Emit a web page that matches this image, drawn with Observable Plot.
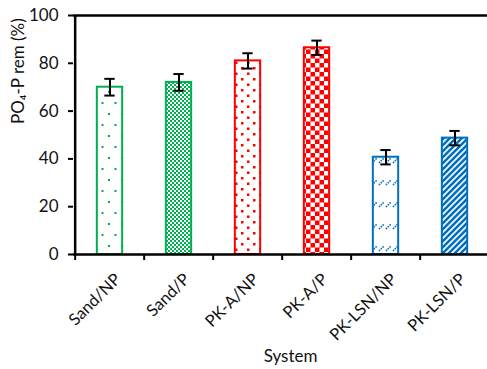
<!DOCTYPE html>
<html>
<head>
<meta charset="utf-8">
<script src="https://cdn.jsdelivr.net/npm/d3@7"></script>
<script src="https://cdn.jsdelivr.net/npm/@observablehq/plot@0.6"></script>
<style>
  html, body { margin: 0; padding: 0; background: #fff; overflow: hidden; }
  #chart svg { display: block; }
</style>
</head>
<body>
<div id="chart"></div>
<script>
const categories = ["Sand/NP", "Sand/P", "PK-A/NP", "PK-A/P", "PK-LSN/NP", "PK-LSN/P"];
const removal = [70, 72, 81, 86.5, 40.7, 48.7];
const errors = [3.5, 3.5, 3.2, 3, 3, 3];
const colors = ["#00B050", "#00B050", "#FF0000", "#FF0000", "#0070C0", "#0070C0"];
const yTicks = [0, 20, 40, 60, 80, 100];

const data = categories.map((c, i) => ({cat: c, v: removal[i], e: errors[i], color: colors[i], pat: `url(#pat${i})`}));

const W = 487, H = 369;
const mL = 73, mR = -4, mT = 15, mB = 115;
const bw = (W - mR - mL) / categories.length;
const font = "Lato, 'Open Sans', sans-serif";

const plot = Plot.plot({
  width: W, height: H,
  marginLeft: mL, marginRight: mR, marginTop: mT, marginBottom: mB,
  style: {fontFamily: font, color: "black", background: "white", maxWidth: "none", overflow: "visible"},
  x: {domain: categories, padding: 0, axis: null},
  y: {domain: [0, 100], axis: null},
  marks: [
    Plot.barY(data, {x: "cat", y: "v", fill: "pat", stroke: "color", strokeWidth: 2, insetLeft: (bw - 26) / 2, insetRight: (bw - 26) / 2}),
    Plot.ruleX(data, {x: "cat", y1: d => d.v - d.e, y2: d => d.v + d.e, stroke: "black", strokeWidth: 2}),
    Plot.tickY(data, {x: "cat", y: d => d.v - d.e, stroke: "black", strokeWidth: 2, insetLeft: (bw - 11) / 2, insetRight: (bw - 11) / 2}),
    Plot.tickY(data, {x: "cat", y: d => d.v + d.e, stroke: "black", strokeWidth: 2, insetLeft: (bw - 11) / 2, insetRight: (bw - 11) / 2}),
    // axes lines
    Plot.ruleY([0], {stroke: "black", strokeWidth: 2.5}),
    Plot.ruleY([100], {stroke: "black", strokeWidth: 2.5}),
    Plot.ruleX([categories[0]], {y1: 0, y2: 100, dx: -bw / 2, stroke: "black", strokeWidth: 2.5}),
    // x ticks at band boundaries
    Plot.ruleX(categories, {x: d => d, y1: 0, y2: -2.5, dx: -bw / 2, stroke: "black", strokeWidth: 2}),
    // y axis
    Plot.axisY({ticks: yTicks, tickSize: 5, tickPadding: 10, fontSize: 17, strokeWidth: 2, stroke: "black", fill: "#111", label: null}),
    // x tick labels
    Plot.text(categories, {x: d => d, y: 0, text: d => d, rotate: -45, textAnchor: "end", lineAnchor: "middle", dx: 8, dy: 22, fontSize: 16.5, fill: "#111"}),
    // titles
    Plot.text(["System"], {frameAnchor: "bottom", dx: 8, dy: 107, fontSize: 17, fill: "#111"}),
    Plot.text(["PO₄-P rem (%)"], {frameAnchor: "left", rotate: -90, dx: -55, dy: -11, fontSize: 17, fill: "#111"})
  ]
});

// patterns
const svg = d3.select(plot);
const defs = svg.insert("defs", ":first-child");
function pat(id, w, h) {
  return defs.append("pattern").attr("id", id).attr("patternUnits", "userSpaceOnUse").attr("width", w).attr("height", h);
}
// 0: sparse green dots
{
  const p = pat("pat0", 13, 22);
  p.append("rect").attr("width", 13).attr("height", 22).attr("fill", "white");
  p.append("rect").attr("x", 4).attr("y", 3).attr("width", 2).attr("height", 2).attr("fill", "#00B050");
  p.append("rect").attr("x", 10.5).attr("y", 14).attr("width", 2).attr("height", 2).attr("fill", "#00B050");
}
// 1: fine green checker
{
  const p = pat("pat1", 4, 4);
  p.append("rect").attr("width", 4).attr("height", 4).attr("fill", "#00B050");
  p.append("rect").attr("x", 0).attr("y", 0).attr("width", 2).attr("height", 2).attr("fill", "white");
  p.append("rect").attr("x", 2).attr("y", 2).attr("width", 2).attr("height", 2).attr("fill", "white");
}
// 2: red dots
{
  const p = pat("pat2", 12, 11);
  p.append("rect").attr("width", 12).attr("height", 11).attr("fill", "white");
  p.append("rect").attr("x", 1).attr("y", 1).attr("width", 2.5).attr("height", 2.5).attr("fill", "#FF0000");
  p.append("rect").attr("x", 7).attr("y", 6.5).attr("width", 2.5).attr("height", 2.5).attr("fill", "#FF0000");
}
// 3: red checker
{
  const p = pat("pat3", 9, 9);
  p.append("rect").attr("width", 9).attr("height", 9).attr("fill", "#FF0000");
  p.append("rect").attr("x", 0).attr("y", 0).attr("width", 4.5).attr("height", 4.5).attr("fill", "white");
  p.append("rect").attr("x", 4.5).attr("y", 4.5).attr("width", 4.5).attr("height", 4.5).attr("fill", "white");
}
// 4: blue dashed diagonals
{
  const p = pat("pat4", 7, 22);
  p.append("rect").attr("width", 7).attr("height", 22).attr("fill", "white");
  p.append("path").attr("d", "M1,9 L6,4").attr("stroke", "#0070C0").attr("stroke-width", 1.6).attr("stroke-dasharray", "1.5,1");
}
// 5: blue diagonal stripes
{
  const p = pat("pat5", 6, 6);
  p.append("rect").attr("width", 6).attr("height", 6).attr("fill", "white");
  p.append("path").attr("d", "M-1.5,1.5 L1.5,-1.5 M0,6 L6,0 M4.5,7.5 L7.5,4.5").attr("stroke", "#0070C0").attr("stroke-width", 2.6);
}

document.getElementById("chart").appendChild(plot);
</script>
</body>
</html>
